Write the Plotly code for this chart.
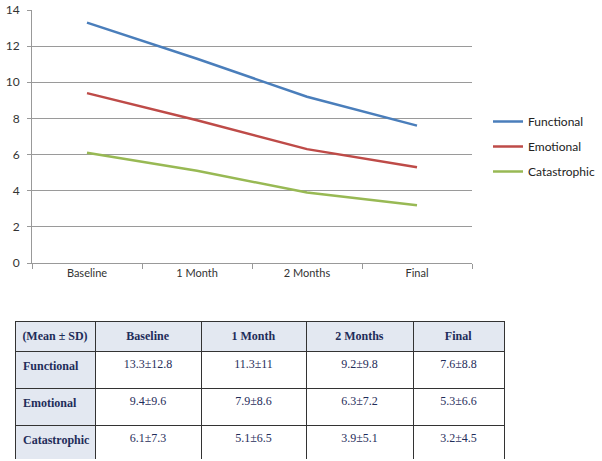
import plotly.graph_objects as go

categories = ["Baseline", "1 Month", "2 Months", "Final"]
functional = [13.3, 11.3, 9.2, 7.6]
emotional = [9.4, 7.9, 6.3, 5.3]
catastrophic = [6.1, 5.1, 3.9, 3.2]
functional_sd = [12.8, 11, 9.8, 8.8]
emotional_sd = [9.6, 8.6, 7.2, 6.6]
catastrophic_sd = [7.3, 6.5, 5.1, 4.5]
series_names = ["Functional", "Emotional", "Catastrophic"]
colors = ["#4a7ebb", "#be4b48", "#98b954"]

W, H = 602, 461


def px(x):
    return x / W


def py(y):
    return 1 - y / H


fig = go.Figure()
for name, vals, col in zip(series_names, [functional, emotional, catastrophic], colors):
    fig.add_trace(go.Scatter(x=categories, y=vals, mode="lines", name=name,
                             legendgroup=name,
                             line=dict(color=col, width=2.5)))


def fmt(v):
    return ("%g" % v)


rows = [functional, emotional, catastrophic]
sds = [functional_sd, emotional_sd, catastrophic_sd]
header = ["<b>(Mean\u00a0±\u00a0SD)</b>"] + ["<b>%s</b>" % c.replace(" ", "\u00a0") for c in categories]
cols = [["<b>%s</b>" % n for n in series_names]]
for j in range(len(categories)):
    cols.append(["%s±%s" % (fmt(rows[i][j]), fmt(sds[i][j])) for i in range(3)])

fig.add_trace(go.Table(
    domain=dict(x=[px(15), px(504)], y=[py(459), py(321)]),
    columnwidth=[80, 106, 105, 107, 91],
    header=dict(values=header, height=22, align="center",
                fill_color="#e3e8f1", line=dict(color="#333333", width=1),
                font=dict(family="Liberation Serif", size=12, color="#1f2d5a")),
    cells=dict(values=cols, height=37, align=["left", "center"],
               fill_color=[["#e3e8f1"] * 3, ["white"] * 3, ["white"] * 3, ["white"] * 3, ["white"] * 3],
               line=dict(color="#333333", width=1),
               font=dict(family="Liberation Serif", size=12, color="#1f2d5a")),
))

fig.update_layout(
    width=W, height=H, margin=dict(l=0, r=0, t=0, b=0),
    paper_bgcolor="white", plot_bgcolor="white",
    font=dict(family="Lato", size=11, color="#333333"),
    showlegend=True,
    legend=dict(x=px(488), y=py(107), xanchor="left", yanchor="top",
                font=dict(family="Lato", size=12, color="#222222"),
                tracegroupgap=6, itemwidth=30),
    xaxis=dict(domain=[px(32), px(472)], type="category", tickson="boundaries",
               range=[-0.5, 3.5], automargin=False,
               showline=True, linecolor="#999999", linewidth=1,
               ticks="outside", ticklen=5, tickcolor="#999999",
               showgrid=False, anchor="y", tickfont=dict(size=11)),
    yaxis=dict(domain=[py(263), py(10)], range=[0, 14], dtick=2,
               automargin=False,
               showline=True, linecolor="#999999", linewidth=1,
               ticks="outside", ticklen=4, tickcolor="#999999",
               ticklabelstandoff=5,
               gridcolor="#9a9a9a", gridwidth=1, zeroline=False,
               tickfont=dict(size=12)),
)

fig.write_html("out.html", config={"displayModeBar": False},
               post_script="document.body.style.margin='0';document.body.style.overflow='hidden';")
